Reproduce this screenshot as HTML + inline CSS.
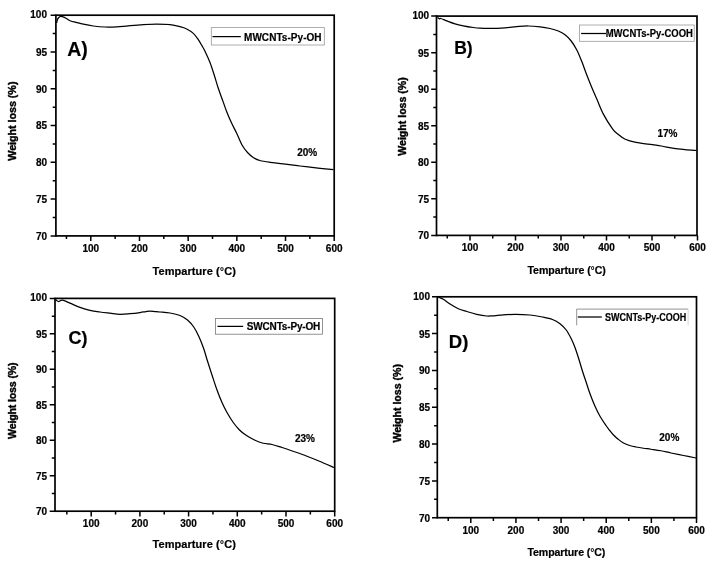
<!DOCTYPE html>
<html lang="en">
<head>
<meta charset="utf-8">
<title>TGA curves</title>
<style>
html,body{margin:0;padding:0;background:#fff;}
body{width:708px;height:566px;overflow:hidden;}
svg{display:block;font-family:"Liberation Sans", sans-serif;fill:#000;}
text{stroke:#000;stroke-width:0.2px;stroke-linejoin:round;}
</style>
</head>
<body>
<svg width="708" height="566" viewBox="0 0 708 566">
<rect width="708" height="566" fill="#fff"/>
<g id="panel-A">
<rect x="55.9" y="15.2" width="278.3" height="220.7" fill="none" stroke="#000" stroke-width="1.7"/>
<text x="47.0" y="18.2" font-size="10.00" font-weight="bold" text-anchor="end">100</text>
<text x="47.0" y="55.9" font-size="10.00" font-weight="bold" text-anchor="end">95</text>
<text x="47.0" y="92.6" font-size="10.00" font-weight="bold" text-anchor="end">90</text>
<text x="47.0" y="129.4" font-size="10.00" font-weight="bold" text-anchor="end">85</text>
<text x="47.0" y="166.2" font-size="10.00" font-weight="bold" text-anchor="end">80</text>
<text x="47.0" y="203.0" font-size="10.00" font-weight="bold" text-anchor="end">75</text>
<text x="47.0" y="239.8" font-size="10.00" font-weight="bold" text-anchor="end">70</text>
<text x="90.8" y="252.0" font-size="10.00" font-weight="bold" text-anchor="middle">100</text>
<text x="139.5" y="252.0" font-size="10.00" font-weight="bold" text-anchor="middle">200</text>
<text x="188.2" y="252.0" font-size="10.00" font-weight="bold" text-anchor="middle">300</text>
<text x="236.8" y="252.0" font-size="10.00" font-weight="bold" text-anchor="middle">400</text>
<text x="285.5" y="252.0" font-size="10.00" font-weight="bold" text-anchor="middle">500</text>
<text x="334.2" y="252.0" font-size="10.00" font-weight="bold" text-anchor="middle">600</text>
<path d="M50.6,15.20 H56.7 M52.7,33.59 H55.9 M50.6,51.98 H55.9 M52.7,70.38 H55.9 M50.6,88.77 H55.9 M52.7,107.16 H55.9 M50.6,125.55 H55.9 M52.7,143.94 H55.9 M50.6,162.33 H55.9 M52.7,180.72 H55.9 M50.6,199.12 H55.9 M52.7,217.51 H55.9 M50.6,235.90 H56.7 M66.46,235.9 V239.1 M90.80,235.9 V241.1 M115.14,235.9 V239.1 M139.48,235.9 V241.1 M163.82,235.9 V239.1 M188.16,235.9 V241.1 M212.50,235.9 V239.1 M236.84,235.9 V241.1 M261.18,235.9 V239.1 M285.52,235.9 V241.1 M309.86,235.9 V239.1 M334.20,235.9 V241.1" stroke="#000" stroke-width="1.5" fill="none"/>
<path d="M56.70,23.00 C56.80,22.50 57.03,20.83 57.30,20.00 C57.57,19.17 57.72,18.62 58.30,18.00 C58.88,17.38 59.68,16.35 60.80,16.30 C61.92,16.25 63.33,16.92 65.00,17.70 C66.67,18.48 68.97,20.23 70.80,21.00 C72.63,21.77 73.92,21.77 76.00,22.30 C78.08,22.83 80.42,23.58 83.30,24.20 C86.18,24.82 89.68,25.53 93.30,26.00 C96.92,26.47 101.10,26.87 105.00,27.00 C108.90,27.13 112.82,27.00 116.70,26.80 C120.58,26.60 123.87,26.15 128.30,25.80 C132.73,25.45 138.57,24.97 143.30,24.70 C148.03,24.43 152.25,24.20 156.70,24.20 C161.15,24.20 166.12,24.28 170.00,24.70 C173.88,25.12 177.22,25.98 180.00,26.70 C182.78,27.42 184.48,27.88 186.70,29.00 C188.92,30.12 191.37,31.63 193.30,33.40 C195.23,35.17 196.90,37.62 198.30,39.60 C199.70,41.58 200.58,43.37 201.70,45.30 C202.82,47.23 203.62,48.33 205.00,51.20 C206.38,54.07 208.47,58.53 210.00,62.50 C211.53,66.47 212.82,70.70 214.20,75.00 C215.58,79.30 216.92,84.13 218.30,88.30 C219.68,92.47 221.10,96.10 222.50,100.00 C223.90,103.90 225.17,107.82 226.70,111.70 C228.23,115.58 230.03,119.70 231.70,123.30 C233.37,126.90 234.90,129.55 236.70,133.30 C238.50,137.05 240.70,142.60 242.50,145.80 C244.30,149.00 245.70,150.55 247.50,152.50 C249.30,154.45 251.22,156.17 253.30,157.50 C255.38,158.83 257.22,159.70 260.00,160.50 C262.78,161.30 266.12,161.75 270.00,162.30 C273.88,162.85 278.30,163.18 283.30,163.80 C288.30,164.42 294.22,165.28 300.00,166.00 C305.78,166.72 312.42,167.48 318.00,168.10 C323.58,168.72 330.92,169.43 333.50,169.70" stroke="#000" stroke-width="1.25" fill="none" stroke-linejoin="round"/>
<text x="67.2" y="55.8" font-size="19.50" font-weight="bold">A)</text>
<rect x="211.3" y="27.6" width="113.0" height="17.4" fill="#fff" stroke="#9a9a9a" stroke-width="0.8"/>
<path d="M212.5,36.6 H240.8" stroke="#000" stroke-width="1.25"/>
<text x="244.0" y="40.5" font-size="10.00" font-weight="bold" letter-spacing="0.048">MWCNTs-Py-OH</text>
<text x="297.2" y="156.2" font-size="10.00" font-weight="bold">20%</text>
<text transform="translate(16.0,160.8) rotate(-90)" font-size="10.80" font-weight="bold" letter-spacing="-0.064" style="stroke-width:0.4px">Weight loss (%)</text>
<text x="152.5" y="274.5" font-size="11.00" font-weight="bold" letter-spacing="0.068">Temparture (<tspan font-weight="normal">°</tspan>C)</text>
</g>
<g id="panel-B">
<rect x="436.5" y="16.1" width="260.5" height="219.3" fill="none" stroke="#000" stroke-width="1.7"/>
<text x="429.2" y="19.1" font-size="10.00" font-weight="bold" text-anchor="end">100</text>
<text x="429.2" y="56.5" font-size="10.00" font-weight="bold" text-anchor="end">95</text>
<text x="429.2" y="93.1" font-size="10.00" font-weight="bold" text-anchor="end">90</text>
<text x="429.2" y="129.6" font-size="10.00" font-weight="bold" text-anchor="end">85</text>
<text x="429.2" y="166.2" font-size="10.00" font-weight="bold" text-anchor="end">80</text>
<text x="429.2" y="202.7" font-size="10.00" font-weight="bold" text-anchor="end">75</text>
<text x="429.2" y="239.3" font-size="10.00" font-weight="bold" text-anchor="end">70</text>
<text x="470.0" y="251.3" font-size="10.00" font-weight="bold" text-anchor="middle">100</text>
<text x="515.5" y="251.3" font-size="10.00" font-weight="bold" text-anchor="middle">200</text>
<text x="561.0" y="251.3" font-size="10.00" font-weight="bold" text-anchor="middle">300</text>
<text x="606.5" y="251.3" font-size="10.00" font-weight="bold" text-anchor="middle">400</text>
<text x="652.0" y="251.3" font-size="10.00" font-weight="bold" text-anchor="middle">500</text>
<text x="697.5" y="251.3" font-size="10.00" font-weight="bold" text-anchor="middle">600</text>
<path d="M431.2,16.10 H437.3 M433.3,34.38 H436.5 M431.2,52.65 H436.5 M433.3,70.93 H436.5 M431.2,89.20 H436.5 M433.3,107.47 H436.5 M431.2,125.75 H436.5 M433.3,144.03 H436.5 M431.2,162.30 H436.5 M433.3,180.58 H436.5 M431.2,198.85 H436.5 M433.3,217.12 H436.5 M431.2,235.40 H437.3 M447.25,235.4 V238.6 M470.00,235.4 V240.6 M492.75,235.4 V238.6 M515.50,235.4 V240.6 M538.25,235.4 V238.6 M561.00,235.4 V240.6 M583.75,235.4 V238.6 M606.50,235.4 V240.6 M629.25,235.4 V238.6 M652.00,235.4 V240.6 M674.75,235.4 V238.6 M697.50,235.4 V240.6" stroke="#000" stroke-width="1.5" fill="none"/>
<path d="M437.50,17.50 C437.83,17.73 438.95,18.73 439.50,18.90 C440.05,19.07 439.60,18.18 440.80,18.50 C442.00,18.82 444.33,19.92 446.70,20.80 C449.07,21.68 452.23,22.97 455.00,23.80 C457.77,24.63 460.25,25.18 463.30,25.80 C466.35,26.42 470.52,27.10 473.30,27.50 C476.08,27.90 477.22,28.05 480.00,28.20 C482.78,28.35 485.83,28.47 490.00,28.40 C494.17,28.33 500.55,28.08 505.00,27.80 C509.45,27.52 512.82,27.00 516.70,26.70 C520.58,26.40 524.42,25.98 528.30,26.00 C532.18,26.02 536.38,26.38 540.00,26.80 C543.62,27.22 546.95,27.80 550.00,28.50 C553.05,29.20 555.80,29.97 558.30,31.00 C560.80,32.03 562.92,33.12 565.00,34.70 C567.08,36.28 568.85,38.00 570.80,40.50 C572.75,43.00 574.88,46.23 576.70,49.70 C578.52,53.17 580.03,57.13 581.70,61.30 C583.37,65.47 585.03,70.38 586.70,74.70 C588.37,79.02 590.03,83.18 591.70,87.20 C593.37,91.22 594.73,94.27 596.70,98.80 C598.67,103.33 600.87,109.40 603.50,114.40 C606.13,119.40 610.08,125.50 612.50,128.80 C614.92,132.10 615.88,132.45 618.00,134.20 C620.12,135.95 622.20,137.93 625.20,139.30 C628.20,140.67 631.48,141.50 636.00,142.40 C640.52,143.30 648.07,144.10 652.30,144.70 C656.53,145.30 657.78,145.38 661.40,146.00 C665.02,146.62 670.08,147.80 674.00,148.40 C677.92,149.00 681.13,149.25 684.90,149.60 C688.67,149.95 694.65,150.35 696.60,150.50" stroke="#000" stroke-width="1.25" fill="none" stroke-linejoin="round"/>
<text x="454.2" y="54.2" font-size="17.50" font-weight="bold">B)</text>
<rect x="579.5" y="25.0" width="114.7" height="16.3" fill="#fff" stroke="#9a9a9a" stroke-width="0.8"/>
<path d="M581.1,33.5 H606.0" stroke="#000" stroke-width="1.25"/>
<text transform="translate(605.7,37.0) scale(0.9485,1)" font-size="10.00" font-weight="bold">MWCNTs-Py-COOH</text>
<text x="657.4" y="136.6" font-size="10.00" font-weight="bold">17%</text>
<text transform="translate(406.3,155.8) rotate(-90)" font-size="10.60" font-weight="bold" letter-spacing="-0.008" style="stroke-width:0.4px">Weight loss (%)</text>
<text x="527.5" y="273.6" font-size="10.60" font-weight="bold" letter-spacing="-0.072">Temparture (<tspan font-weight="normal">°</tspan>C)</text>
</g>
<g id="panel-C">
<rect x="55.0" y="298.4" width="279.7" height="212.8" fill="none" stroke="#000" stroke-width="1.7"/>
<text x="47.0" y="301.4" font-size="10.00" font-weight="bold" text-anchor="end">100</text>
<text x="47.0" y="337.7" font-size="10.00" font-weight="bold" text-anchor="end">95</text>
<text x="47.0" y="373.2" font-size="10.00" font-weight="bold" text-anchor="end">90</text>
<text x="47.0" y="408.7" font-size="10.00" font-weight="bold" text-anchor="end">85</text>
<text x="47.0" y="444.1" font-size="10.00" font-weight="bold" text-anchor="end">80</text>
<text x="47.0" y="479.6" font-size="10.00" font-weight="bold" text-anchor="end">75</text>
<text x="47.0" y="515.1" font-size="10.00" font-weight="bold" text-anchor="end">70</text>
<text x="91.2" y="526.7" font-size="10.00" font-weight="bold" text-anchor="middle">100</text>
<text x="139.9" y="526.7" font-size="10.00" font-weight="bold" text-anchor="middle">200</text>
<text x="188.6" y="526.7" font-size="10.00" font-weight="bold" text-anchor="middle">300</text>
<text x="237.3" y="526.7" font-size="10.00" font-weight="bold" text-anchor="middle">400</text>
<text x="286.0" y="526.7" font-size="10.00" font-weight="bold" text-anchor="middle">500</text>
<text x="334.7" y="526.7" font-size="10.00" font-weight="bold" text-anchor="middle">600</text>
<path d="M49.7,298.40 H55.8 M51.8,316.13 H55.0 M49.7,333.87 H55.0 M51.8,351.60 H55.0 M49.7,369.33 H55.0 M51.8,387.07 H55.0 M49.7,404.80 H55.0 M51.8,422.53 H55.0 M49.7,440.27 H55.0 M51.8,458.00 H55.0 M49.7,475.73 H55.0 M51.8,493.47 H55.0 M49.7,511.20 H55.8 M66.85,511.2 V514.4 M91.20,511.2 V516.4 M115.55,511.2 V514.4 M139.90,511.2 V516.4 M164.25,511.2 V514.4 M188.60,511.2 V516.4 M212.95,511.2 V514.4 M237.30,511.2 V516.4 M261.65,511.2 V514.4 M286.00,511.2 V516.4 M310.35,511.2 V514.4 M334.70,511.2 V516.4" stroke="#000" stroke-width="1.5" fill="none"/>
<path d="M55.50,299.30 C55.97,299.67 57.13,301.35 58.30,301.50 C59.47,301.65 60.55,299.92 62.50,300.20 C64.45,300.48 67.08,302.02 70.00,303.20 C72.92,304.38 76.67,306.12 80.00,307.30 C83.33,308.48 86.67,309.52 90.00,310.30 C93.33,311.08 96.67,311.52 100.00,312.00 C103.33,312.48 106.67,312.82 110.00,313.20 C113.33,313.58 116.67,314.22 120.00,314.30 C123.33,314.38 126.67,313.98 130.00,313.70 C133.33,313.42 137.33,312.95 140.00,312.60 C142.67,312.25 144.33,311.83 146.00,311.60 C147.67,311.37 148.50,311.20 150.00,311.20 C151.50,311.20 153.33,311.47 155.00,311.60 C156.67,311.73 157.50,311.77 160.00,312.00 C162.50,312.23 166.67,312.42 170.00,313.00 C173.33,313.58 177.08,314.33 180.00,315.50 C182.92,316.67 185.21,318.08 187.50,320.00 C189.79,321.92 191.88,324.29 193.75,327.00 C195.62,329.71 197.08,332.62 198.75,336.25 C200.42,339.88 202.38,344.88 203.75,348.75 C205.12,352.62 205.62,355.12 207.00,359.50 C208.38,363.88 210.33,369.92 212.00,375.00 C213.67,380.08 215.33,385.42 217.00,390.00 C218.67,394.58 220.33,398.75 222.00,402.50 C223.67,406.25 225.12,409.17 227.00,412.50 C228.88,415.83 231.17,419.58 233.25,422.50 C235.33,425.42 237.42,427.92 239.50,430.00 C241.58,432.08 243.25,433.33 245.75,435.00 C248.25,436.67 251.58,438.62 254.50,440.00 C257.42,441.38 260.33,442.50 263.25,443.25 C266.17,444.00 268.88,443.79 272.00,444.50 C275.12,445.21 278.25,446.29 282.00,447.50 C285.75,448.71 290.33,450.29 294.50,451.75 C298.67,453.21 302.83,454.67 307.00,456.25 C311.17,457.83 315.00,459.38 319.50,461.25 C324.00,463.12 331.58,466.46 334.00,467.50" stroke="#000" stroke-width="1.25" fill="none" stroke-linejoin="round"/>
<text x="68.6" y="343.9" font-size="18.00" font-weight="bold">C)</text>
<rect x="215.4" y="318.5" width="107.0" height="15.7" fill="#fff" stroke="#777" stroke-width="0.8"/>
<path d="M217.5,326.4 H243.2" stroke="#000" stroke-width="1.25"/>
<text x="246.8" y="330.4" font-size="10.00" font-weight="bold" letter-spacing="-0.174">SWCNTs-Py-OH</text>
<text x="294.9" y="441.9" font-size="10.00" font-weight="bold">23%</text>
<text transform="translate(15.8,439.0) rotate(-90)" font-size="10.60" font-weight="bold" letter-spacing="-0.151" style="stroke-width:0.4px">Weight loss (%)</text>
<text x="152.5" y="547.8" font-size="11.00" font-weight="bold" letter-spacing="0.068">Temparture (<tspan font-weight="normal">°</tspan>C)</text>
</g>
<g id="panel-D">
<rect x="437.3" y="296.8" width="259.2" height="220.9" fill="none" stroke="#000" stroke-width="1.7"/>
<text x="430.0" y="299.8" font-size="10.00" font-weight="bold" text-anchor="end">100</text>
<text x="430.0" y="337.5" font-size="10.00" font-weight="bold" text-anchor="end">95</text>
<text x="430.0" y="374.3" font-size="10.00" font-weight="bold" text-anchor="end">90</text>
<text x="430.0" y="411.1" font-size="10.00" font-weight="bold" text-anchor="end">85</text>
<text x="430.0" y="447.9" font-size="10.00" font-weight="bold" text-anchor="end">80</text>
<text x="430.0" y="484.8" font-size="10.00" font-weight="bold" text-anchor="end">75</text>
<text x="430.0" y="521.6" font-size="10.00" font-weight="bold" text-anchor="end">70</text>
<text x="470.8" y="533.6" font-size="10.00" font-weight="bold" text-anchor="middle">100</text>
<text x="515.9" y="533.6" font-size="10.00" font-weight="bold" text-anchor="middle">200</text>
<text x="561.1" y="533.6" font-size="10.00" font-weight="bold" text-anchor="middle">300</text>
<text x="606.2" y="533.6" font-size="10.00" font-weight="bold" text-anchor="middle">400</text>
<text x="651.4" y="533.6" font-size="10.00" font-weight="bold" text-anchor="middle">500</text>
<text x="696.5" y="533.6" font-size="10.00" font-weight="bold" text-anchor="middle">600</text>
<path d="M432.0,296.80 H438.1 M434.1,315.21 H437.3 M432.0,333.62 H437.3 M434.1,352.03 H437.3 M432.0,370.43 H437.3 M434.1,388.84 H437.3 M432.0,407.25 H437.3 M434.1,425.66 H437.3 M432.0,444.07 H437.3 M434.1,462.48 H437.3 M432.0,480.88 H437.3 M434.1,499.29 H437.3 M432.0,517.70 H438.1 M448.23,517.7 V520.9 M470.80,517.7 V522.9 M493.37,517.7 V520.9 M515.94,517.7 V522.9 M538.51,517.7 V520.9 M561.08,517.7 V522.9 M583.65,517.7 V520.9 M606.22,517.7 V522.9 M628.79,517.7 V520.9 M651.36,517.7 V522.9 M673.93,517.7 V520.9 M696.50,517.7 V522.9" stroke="#000" stroke-width="1.5" fill="none"/>
<path d="M438.30,297.00 C439.13,297.38 441.35,298.13 443.30,299.30 C445.25,300.47 447.50,302.43 450.00,304.00 C452.50,305.57 455.52,307.45 458.30,308.70 C461.08,309.95 463.63,310.57 466.70,311.50 C469.77,312.43 473.37,313.55 476.70,314.30 C480.03,315.05 483.98,315.75 486.70,316.00 C489.42,316.25 490.78,315.93 493.00,315.80 C495.22,315.67 496.33,315.45 500.00,315.20 C503.67,314.95 510.00,314.33 515.00,314.30 C520.00,314.27 525.42,314.55 530.00,315.00 C534.58,315.45 538.75,316.25 542.50,317.00 C546.25,317.75 549.58,318.38 552.50,319.50 C555.42,320.62 557.71,322.00 560.00,323.75 C562.29,325.50 564.38,327.50 566.25,330.00 C568.12,332.50 569.79,335.83 571.25,338.75 C572.71,341.67 573.75,344.17 575.00,347.50 C576.25,350.83 577.50,354.79 578.75,358.75 C580.00,362.71 581.25,367.29 582.50,371.25 C583.75,375.21 585.00,378.75 586.25,382.50 C587.50,386.25 588.54,389.79 590.00,393.75 C591.46,397.71 593.33,402.50 595.00,406.25 C596.67,410.00 598.17,413.04 600.00,416.25 C601.83,419.46 604.38,423.12 606.00,425.50 C607.62,427.88 608.50,428.92 609.75,430.50 C611.00,432.08 612.04,433.50 613.50,435.00 C614.96,436.50 616.83,438.17 618.50,439.50 C620.17,440.83 621.62,442.00 623.50,443.00 C625.38,444.00 627.67,444.83 629.75,445.50 C631.83,446.17 633.71,446.54 636.00,447.00 C638.29,447.46 641.00,447.88 643.50,448.25 C646.00,448.62 648.08,448.83 651.00,449.25 C653.92,449.67 657.67,450.12 661.00,450.75 C664.33,451.38 667.25,452.21 671.00,453.00 C674.75,453.79 679.33,454.67 683.50,455.50 C687.67,456.33 693.92,457.58 696.00,458.00" stroke="#000" stroke-width="1.25" fill="none" stroke-linejoin="round"/>
<text x="448.8" y="347.5" font-size="18.50" font-weight="bold">D)</text>
<path d="M576.7,325.3 V309.1 H688.1" fill="none" stroke="#777" stroke-width="0.8"/>
<path d="M688.1,309.1 V325.3" fill="none" stroke="#ccc" stroke-width="0.8"/>
<path d="M577.8,317.0 H601.8" stroke="#000" stroke-width="1.25"/>
<text transform="translate(604.9,321.2) scale(0.9022,1)" font-size="10.00" font-weight="bold">SWCNTs-Py-COOH</text>
<text x="659.3" y="440.6" font-size="10.00" font-weight="bold">20%</text>
<text transform="translate(400.5,442.6) rotate(-90)" font-size="10.60" font-weight="bold" letter-spacing="-0.008" style="stroke-width:0.4px">Weight loss (%)</text>
<text x="527.5" y="555.6" font-size="10.60" font-weight="bold" letter-spacing="-0.108">Temparture (<tspan font-weight="normal">°</tspan>C)</text>
</g>
</svg>
</body>
</html>
